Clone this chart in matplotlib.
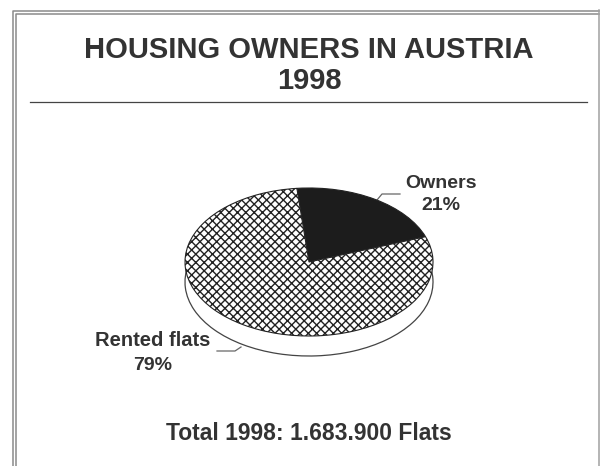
import matplotlib
matplotlib.use('Agg')
import matplotlib.pyplot as plt

labels = ['Owners', 'Rented flats']
shares = [21, 79]
title_lines = ['HOUSING OWNERS IN AUSTRIA', '1998']
footer = 'Total 1998: 1.683.900 Flats'

W, H = 600, 466
INK = '#333333'
plt.rcParams['font.family'] = ['Liberation Sans', 'DejaVu Sans']
plt.rcParams['hatch.linewidth'] = 1.0
plt.rcParams['hatch.color'] = '#222222'

fig = plt.figure(figsize=(W / 100, H / 100), dpi=100, facecolor='white')

# page layer in pixel coords, y downwards
bg = fig.add_axes([0, 0, 1, 1])
bg.set_xlim(0, W)
bg.set_ylim(H, 0)
bg.axis('off')

# double frame, open at the bottom
bg.plot([12.5, 12.5, 599], [H, 10.5, 10.5], color='#8a8a8a', lw=1.1)
bg.plot([16, 16, 599], [H, 14, 14], color='#8a8a8a', lw=1.1)
bg.plot([598.5, 598.5], [10, H], color='#a0a0a0', lw=1.1)

bg.text(309, 50, title_lines[0], ha='center', va='center', fontsize=21,
        fontweight='bold', color=INK)
bg.text(309, 81, title_lines[1], ha='center', va='center', fontsize=21,
        fontweight='bold', color=INK)
bg.plot([30, 587], [102, 102], color='#444444', lw=0.9)

# pie: ellipse 248x148 px, rim 20 px deep
rx, ry, depth = 124, 74, 20
cx, cy = 309, 262
left, right = cx - rx, cx + rx
top, bottom = cy - ry, cy + ry + depth
ax = fig.add_axes([left / W, 1 - bottom / H, (right - left) / W, (bottom - top) / H])

ax.pie(shares, startangle=20, radius=1, center=(0, -depth / ry),
       colors=['white', 'white'], wedgeprops={'edgecolor': '#444444', 'linewidth': 0.9})
wedges, _ = ax.pie(shares, startangle=20, radius=1, center=(0, 0),
                   colors=['#1c1c1c', 'white'],
                   wedgeprops={'edgecolor': '#222222', 'linewidth': 0.8})
wedges[1].set_hatch('xxxx')
ax.set_aspect('auto')
ax.set_xlim(-1, 1)
ax.set_ylim(-1 - depth / ry, 1)
ax.patch.set_visible(False)
for w in ax.patches:
    w.set_clip_on(False)

# slice labels and leader lines
bg.text(441, 184, labels[0], ha='center', va='center', fontsize=14,
        fontweight='bold', color=INK)
bg.text(441, 206, f'{shares[0]}%', ha='center', va='center', fontsize=14,
        fontweight='bold', color=INK)
bg.plot([377, 382, 400], [200, 194, 194], color='#666666', lw=0.9)

bg.text(153, 341, labels[1], ha='center', va='center', fontsize=14.5,
        fontweight='bold', color=INK)
bg.text(153, 365, f'{shares[1]}%', ha='center', va='center', fontsize=14,
        fontweight='bold', color=INK)
bg.plot([217, 235, 241], [351, 351, 347], color='#666666', lw=0.9)

bg.text(309, 434, footer, ha='center', va='center', fontsize=16.5,
        fontweight='bold', color=INK)

fig.savefig('out.png', dpi=100, facecolor='white')
